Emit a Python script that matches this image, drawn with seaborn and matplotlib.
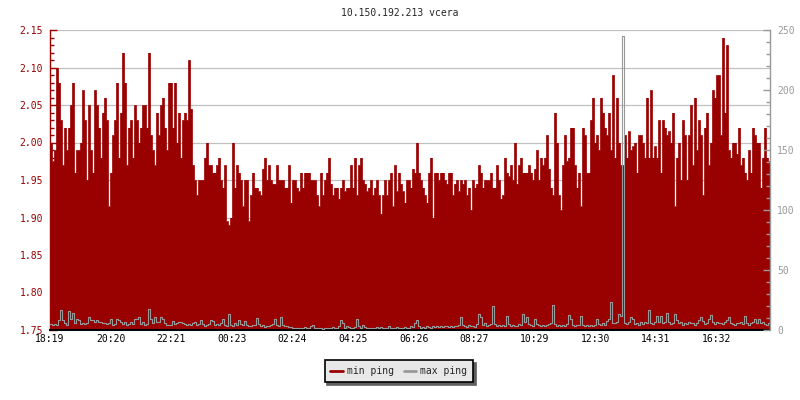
import numpy as np
import pandas as pd
import seaborn as sns
import matplotlib.pyplot as plt
from matplotlib.lines import Line2D
from matplotlib.ticker import MultipleLocator, FormatStrFormatter

title = "10.150.192.213 vcera"
time_labels = ["18:19", "20:20", "22:21", "00:23", "02:24", "04:25",
               "06:26", "08:27", "10:29", "12:30", "14:31", "16:32"]
series_names = ["min ping", "max ping"]

# min ping (left axis), one value every 4 minutes
min_ping = [
    2.00, 1.975, 1.99, 2.10, 2.08, 2.03, 1.97, 2.02, 1.99, 2.02,
    2.05, 2.08, 1.96, 1.99, 1.99, 2.00, 2.07, 2.03, 1.95, 2.05,
    1.99, 1.96, 2.07, 2.05, 2.02, 1.98, 2.04, 2.06, 2.03, 1.915,
    1.96, 2.01, 2.03, 2.08, 1.98, 2.04, 2.12, 2.08, 1.97, 2.02,
    2.03, 1.98, 2.05, 2.03, 2.00, 2.02, 2.05, 2.05, 2.02, 2.12,
    2.01, 1.99, 1.97, 2.04, 2.01, 2.05, 2.06, 2.02, 1.99, 2.08,
    # 22:00 -> 02:00
    2.08, 2.02, 2.08, 2.00, 2.04, 1.98, 2.03, 2.04, 2.03, 2.11,
    2.045, 1.97, 1.95, 1.93, 1.95, 1.95, 1.95, 1.98, 2.00, 1.97,
    1.97, 1.96, 1.96, 1.97, 1.98, 1.95, 1.94, 1.97, 1.895, 1.89,
    1.90, 2.00, 1.94, 1.97, 1.96, 1.95, 1.915, 1.95, 1.95, 1.895,
    1.93, 1.96, 1.94, 1.94, 1.935, 1.93, 1.965, 1.98, 1.95, 1.97,
    1.95, 1.945, 1.945, 1.97, 1.95, 1.95, 1.95, 1.94, 1.94, 1.97,
    # 02:00 -> 06:00
    1.92, 1.95, 1.95, 1.94, 1.935, 1.96, 1.94, 1.96, 1.96, 1.96,
    1.95, 1.95, 1.95, 1.93, 1.915, 1.96, 1.93, 1.95, 1.96, 1.98,
    1.945, 1.93, 1.94, 1.94, 1.925, 1.94, 1.95, 1.935, 1.94, 1.94,
    1.97, 1.94, 1.98, 1.93, 1.97, 1.98, 1.95, 1.945, 1.935, 1.94,
    1.95, 1.93, 1.94, 1.95, 1.93, 1.905, 1.93, 1.95, 1.93, 1.95,
    1.96, 1.915, 1.97, 1.935, 1.96, 1.945, 1.935, 1.92, 1.95, 1.95,
    # 06:00 -> 10:00
    1.94, 1.965, 1.96, 2.00, 1.96, 1.95, 1.94, 1.93, 1.92, 1.96,
    1.98, 1.90, 1.96, 1.96, 1.95, 1.96, 1.96, 1.95, 1.945, 1.96,
    1.96, 1.93, 1.945, 1.95, 1.935, 1.95, 1.945, 1.95, 1.93, 1.94,
    1.91, 1.95, 1.94, 1.945, 1.97, 1.96, 1.94, 1.95, 1.95, 1.95,
    1.96, 1.94, 1.94, 1.97, 1.95, 1.925, 1.93, 1.98, 1.96, 1.955,
    1.97, 1.95, 2.00, 1.945, 1.97, 1.98, 1.96, 1.96, 1.96, 1.97,
    # 10:00 -> 14:00
    1.96, 1.95, 1.965, 1.99, 1.95, 1.98, 1.97, 1.98, 2.01, 1.965,
    1.94, 1.93, 2.04, 2.00, 1.93, 1.91, 1.97, 2.01, 1.975, 1.98,
    2.02, 2.02, 1.97, 1.94, 1.96, 1.915, 2.02, 2.01, 1.96, 1.96,
    2.03, 2.06, 2.00, 2.01, 1.99, 2.06, 2.04, 2.02, 2.01, 2.04,
    1.99, 2.09, 1.98, 2.06, 2.00, 1.97, 1.97, 2.01, 1.98, 2.015,
    1.99, 1.995, 2.00, 1.96, 2.01, 2.01, 2.00, 1.98, 2.06, 1.98,
    # 14:00 -> 18:00
    2.07, 1.98, 1.995, 1.98, 2.03, 1.96, 2.03, 2.02, 2.01, 2.015,
    2.00, 2.04, 1.915, 1.98, 2.00, 1.95, 2.03, 2.01, 1.95, 2.01,
    2.05, 1.97, 2.06, 1.99, 2.03, 2.01, 1.93, 2.02, 2.04, 1.97,
    2.00, 2.07, 2.06, 2.09, 2.09, 2.01, 2.14, 2.04, 2.13, 1.99,
    1.98, 2.00, 2.00, 1.985, 2.02, 1.97, 1.98, 1.96, 1.95, 1.99,
    1.96, 2.02, 2.01, 2.00, 2.00, 1.94, 1.98, 2.02, 1.98, 1.975,
]

# max ping (right axis)
max_ping = [
    4.8, 4.5, 4.8, 4.0, 8.0, 16.5, 8.0, 5.5, 4.5, 16.0,
    9.0, 14.0, 5.5, 9.0, 8.0, 5.0, 5.5, 5.0, 5.5, 10.5,
    8.0, 8.5, 6.5, 8.0, 7.0, 6.5, 6.0, 5.5, 5.0, 5.5,
    9.0, 4.5, 5.0, 9.0, 8.5, 6.5, 5.0, 6.5, 4.5, 5.0,
    6.5, 5.0, 9.0, 9.5, 11.0, 5.0, 6.5, 4.5, 5.0, 17.5,
    9.5, 6.0, 10.5, 7.0, 6.5, 11.0, 9.0, 6.0, 4.5, 4.0,
    4.5, 7.5, 5.0, 6.0, 6.5, 6.5, 6.0, 5.0, 4.5, 5.0,
    4.0, 5.5, 6.5, 4.5, 5.0, 8.0, 5.0, 3.0, 4.0, 5.0,
    8.0, 7.5, 4.5, 5.0, 4.0, 5.5, 9.0, 4.0, 3.5, 13.0,
    4.0, 3.0, 6.0, 4.5, 8.0, 5.0, 4.0, 7.5, 4.5, 3.0,
    3.5, 4.0, 4.5, 10.0, 5.0, 3.5, 4.0, 2.5, 3.5, 3.0,
    4.0, 5.0, 9.5, 4.0, 3.5, 10.5, 4.0, 3.0, 3.5, 2.5,
    2.5, 2.0, 1.5, 2.0, 1.5, 2.0, 1.5, 2.5, 1.5, 2.0,
    3.0, 4.5, 2.0, 1.5, 2.0, 1.5, 1.0, 2.0, 1.5, 2.0,
    1.5, 2.5, 2.0, 1.5, 3.0, 8.0, 5.5, 2.0, 3.0, 2.5,
    1.5, 2.0, 2.5, 9.5, 3.0, 2.0, 4.5, 2.5, 2.0, 1.5,
    2.0, 1.5, 2.0, 2.5, 1.5, 2.5, 2.0, 1.5, 2.0, 3.0,
    2.0, 1.5, 2.0, 2.5, 1.5, 2.0, 1.5, 2.5, 1.5, 2.0,
    3.0, 2.5, 6.0, 8.5, 3.0, 2.0, 2.5, 2.0, 3.0, 2.5,
    2.0, 3.0, 2.5, 3.5, 2.5, 3.0, 2.5, 3.5, 3.0, 2.5,
    3.0, 2.5, 3.5, 3.0, 4.0, 10.5, 4.0, 3.0, 2.5, 4.0,
    3.5, 3.0, 2.5, 5.0, 13.0, 10.5, 4.5, 5.5, 3.5, 4.0,
    5.0, 20.0, 5.0, 3.5, 4.0, 3.0, 4.5, 3.5, 11.5, 5.0,
    3.0, 4.0, 3.5, 3.0, 5.0, 4.5, 13.5, 7.0, 11.0, 5.0,
    4.0, 3.5, 9.0, 5.0, 4.0, 3.5, 4.5, 3.0, 4.0, 5.0,
    6.0, 21.0, 5.0, 3.5, 4.0, 3.5, 4.5, 3.5, 5.0, 12.5,
    9.0, 4.0, 3.5, 4.5, 4.0, 11.5, 4.5, 3.5, 4.0, 3.0,
    4.0, 3.5, 4.0, 9.0, 5.0, 4.0, 5.5, 4.0, 7.5, 9.5,
    23.0, 6.0, 5.5, 7.0, 13.0, 12.0, 245.0, 6.0, 5.0, 6.5,
    11.0, 9.0, 5.0, 6.0, 4.5, 6.5, 5.0, 7.0, 6.0, 17.0,
    6.0, 5.0, 6.5, 11.5, 7.0, 12.0, 5.5, 6.5, 14.0, 7.0,
    5.0, 6.0, 13.0, 8.0, 5.5, 6.5, 4.5, 6.0, 5.0, 7.0,
    5.5, 6.0, 4.5, 6.0, 8.0, 11.0, 7.5, 5.0, 6.0, 9.0,
    12.5, 6.5, 5.0, 7.0, 5.5, 6.0, 5.0, 6.5, 8.0, 11.0,
    6.0, 5.0, 4.5, 6.0, 5.5, 6.5, 5.0, 12.0, 6.0, 4.5,
    5.5, 7.0, 9.5, 6.0, 9.0, 5.5, 7.0, 5.0, 4.5, 6.0,
]

red = "#990000"
gray = "#999999"
span = 1440  # minutes on the x axis


def step_frame(values):
    # one row per sample, plus a closing row so the last step reaches the end
    t = np.arange(len(values) + 1) * span / len(values)
    return pd.DataFrame({"t": t, "v": list(values) + [values[-1]]})


sns.set_style("white")
plt.rcParams['font.family'] = ['DejaVu Sans Mono']

fig = plt.figure(figsize=(8, 4), dpi=100)
ax = fig.add_axes([0.0625, 0.175, 0.9, 0.75])

dmin = step_frame(min_ping)
dmax = step_frame(max_ping)

ax.fill_between(dmin.t, dmin.v, 1.75, step="post", color=red, lw=0, zorder=2)
sns.lineplot(data=dmin, x="t", y="v", drawstyle="steps-post", color=red,
             lw=0.5, ax=ax, legend=False, zorder=2)
ax.set_xlim(0, span)
ax.set_ylim(1.75, 2.15)
ax.yaxis.set_major_locator(MultipleLocator(0.05))
ax.yaxis.set_minor_locator(MultipleLocator(0.01))
ax.yaxis.set_major_formatter(FormatStrFormatter("%.2f"))
ax.grid(axis="y", color="#c0c0c0", lw=0.9, zorder=0)
ax.set_axisbelow(True)
ax.set_xlabel("")
ax.set_ylabel("")

ax.set_xticks(np.arange(len(time_labels)) * 121.2)
ax.set_xticklabels(time_labels)
ax.tick_params(axis="x", direction="in", length=4, width=1, colors="black",
               labelsize=7, pad=3)
ax.tick_params(axis="y", which="major", direction="in", length=5, width=1,
               colors=red, labelsize=7, pad=5)
ax.tick_params(axis="y", which="minor", direction="in", length=3, width=1,
               colors=red)

ax2 = ax.twinx()
sns.lineplot(data=dmax, x="t", y="v", drawstyle="steps-post", color=gray,
             lw=0.8, ax=ax2, legend=False)
ax2.set_xlim(0, span)
ax2.set_ylim(0, 250)
ax2.yaxis.set_major_locator(MultipleLocator(50))
ax2.yaxis.set_minor_locator(MultipleLocator(10))
ax2.set_ylabel("")
ax2.tick_params(axis="y", which="major", direction="in", length=5, width=1,
                colors=gray, labelsize=7, pad=5)
ax2.tick_params(axis="y", which="minor", direction="in", length=3, width=1,
                colors=gray)

for a in (ax, ax2):
    a.spines["top"].set_visible(False)
ax.spines["right"].set_visible(False)
ax2.spines["left"].set_visible(False)
ax2.spines["bottom"].set_visible(False)
ax.spines["left"].set_color(red)
ax.spines["left"].set_linewidth(1.0)
ax2.spines["right"].set_color(gray)
ax2.spines["right"].set_linewidth(1.0)
ax.spines["bottom"].set_color("black")
ax.spines["bottom"].set_linewidth(1.4)

fig.text(0.5, 1 - 13 / 400, title, ha="center", va="center", fontsize=7)

handles = [Line2D([], [], color=red, lw=2), Line2D([], [], color=gray, lw=2)]
leg = fig.legend(handles, series_names, loc="center",
                 bbox_to_anchor=(0.4985, 0.0725), ncol=2, fontsize=7,
                 frameon=True, fancybox=False, edgecolor="black",
                 facecolor="#e8e8e8", framealpha=1,
                 shadow={"color": "#606060", "alpha": 1},
                 borderpad=0.6, handlelength=1.3, handletextpad=0.4,
                 columnspacing=1.0)
leg.get_frame().set_linewidth(1.2)

fig.savefig("out.png", dpi=100)
